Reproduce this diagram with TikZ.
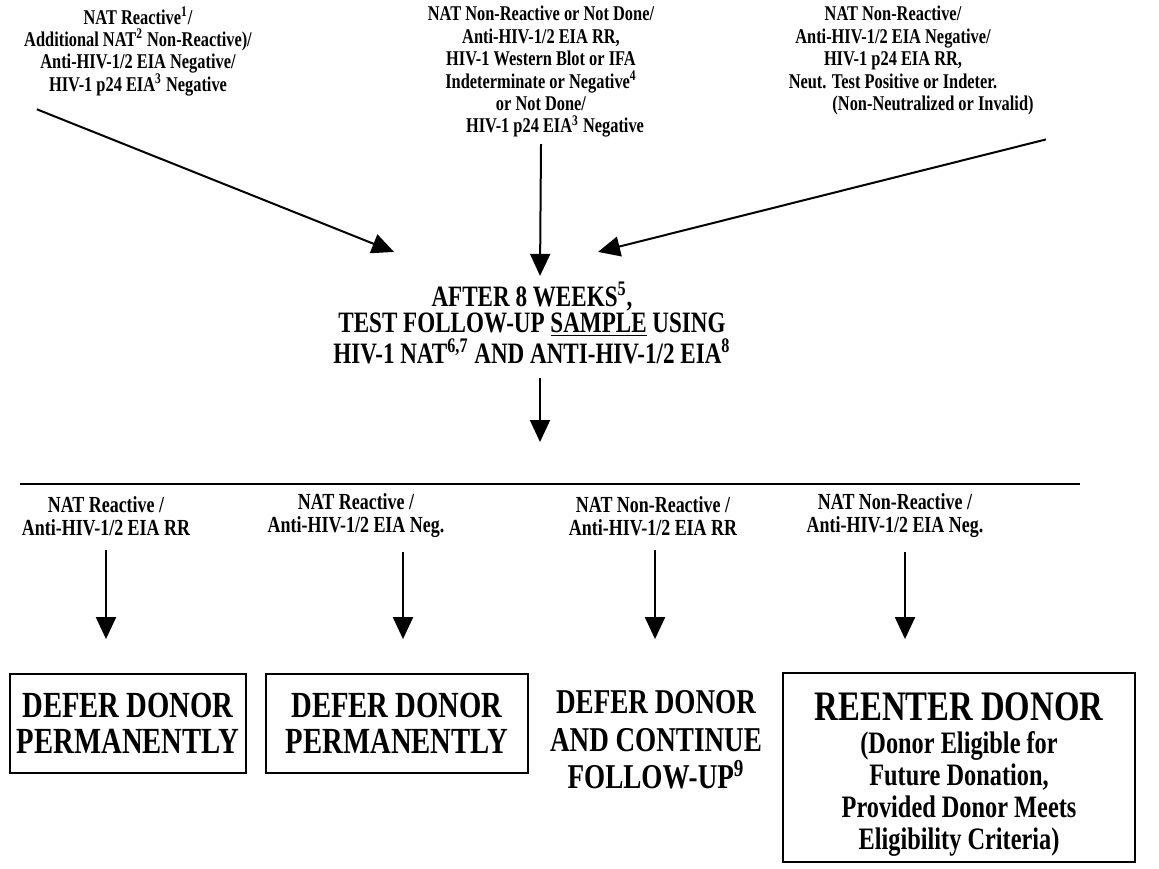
\documentclass[tikz,border=0pt]{standalone}
\usepackage{fontspec}
\setmainfont{Liberation Serif}[FakeStretch=0.78]
\usetikzlibrary{positioning, calc, arrows.meta}

\newcommand{\topfont}{\bfseries\fontsize{10.5pt}{11.2pt}\selectfont}
\newcommand{\midfont}{\bfseries\fontsize{14.8pt}{13.2pt}\selectfont}
\newcommand{\labfont}{\bfseries\fontsize{11.5pt}{11.5pt}\selectfont}
\newcommand{\outfont}{\bfseries\fontsize{18.4pt}{18pt}\selectfont}
\newcommand{\reenfont}{\bfseries\fontsize{21pt}{21pt}\selectfont}
\newcommand{\notefont}{\bfseries\fontsize{15.6pt}{16pt}\selectfont}

\begin{document}
\begin{tikzpicture}[x=0.5pt, y=-0.5pt]
\tikzset{Cond/.style={align=center, inner sep=0pt}}
\tikzset{Outcome/.style={shape=rectangle, draw, line width=0.9pt, inner sep=0pt}}
\tikzset{Arr/.style={line width=1pt, -{Triangle[length=11pt, width=10pt]}}}
\useasboundingbox (0,0) rectangle (1159,868);

% nodes
\node[Cond, font=\topfont, anchor=north] (ltop) at (138,6) {NAT Reactive\textsuperscript{1}/\\Additional NAT\textsuperscript{2} Non-Reactive)/\\Anti-HIV-1/2 EIA Negative/\\HIV-1 p24 EIA\textsuperscript{3} Negative};
\node[Cond, font=\topfont, anchor=north] (mtop) at (541,6) {NAT Non-Reactive or Not Done/\\Anti-HIV-1/2 EIA RR,\\HIV-1 Western Blot or IFA\\Indeterminate or Negative\textsuperscript{4}\\or Not Done/\\\hspace*{14pt}HIV-1 p24 EIA\textsuperscript{3} Negative};
\node[Cond, font=\topfont, anchor=north] (rtop) at (893,6) {NAT Non-Reactive/\\Anti-HIV-1/2 EIA Negative/\\HIV-1 p24 EIA RR,\\Neut. Test Positive or Indeter.\\\hspace*{40pt}(Non-Neutralized or Invalid)};

\node[Cond, font=\midfont] (follow) at (532,323) {AFTER 8 WEEKS\textsuperscript{5},\\TEST FOLLOW-UP \underline{SAMPLE} USING\\HIV-1 NAT\textsuperscript{6,7} AND ANTI-HIV-1/2 EIA\textsuperscript{8}};
\coordinate (hub) at (540,442);

\node[Cond, font=\labfont] (res1) at (106,516) {NAT Reactive /\\Anti-HIV-1/2 EIA RR};
\node[Cond, font=\labfont] (res2) at (356,516) {NAT Reactive /\\Anti-HIV-1/2 EIA Neg.};
\node[Cond, font=\labfont] (res3) at (653,516) {NAT Non-Reactive /\\Anti-HIV-1/2 EIA RR};
\node[Cond, font=\labfont] (res4) at (895,516) {NAT Non-Reactive /\\Anti-HIV-1/2 EIA Neg.};

\node[Outcome, minimum width=118pt, minimum height=49.5pt] (out1) at (128,723.5) {};
\node[Cond, font=\outfont, below=10pt of out1.north] (dfr1) {DEFER DONOR\\PERMANENTLY};
\node[Outcome, minimum width=131pt, minimum height=49.5pt] (out2) at (397,723.5) {};
\node[Cond, font=\outfont, below=10pt of out2.north] (dfr2) {DEFER DONOR\\PERMANENTLY};
\node[Cond, font=\bfseries\fontsize{17.4pt}{18.7pt}\selectfont] (dfr3) at (656,740) {DEFER DONOR\\AND CONTINUE\\FOLLOW-UP\textsuperscript{9}};
\node[Outcome, minimum width=176pt, minimum height=94.5pt] (out4) at (959,767.5) {};
\node[Cond, font=\reenfont, below=10pt of out4.north] (re4) {REENTER DONOR};
\node[Cond, font=\notefont, below=5pt of re4] (note4) {(Donor Eligible for\\Future Donation,\\Provided Donor Meets\\Eligibility Criteria)};

% arrows
\draw[Arr] ($(ltop.south west)+(13,13)$) -- ($(follow.north)+(-138,-30)$);
\draw[Arr] ($(mtop.south)+(0,6)$) -- ($(follow.north)+(8,-6)$);
\draw[Arr] ($(rtop.south east)+(12,24)$) -- ($(follow.north)+(66,-30)$);
\draw[Arr] ($(follow.south)+(8,14)$) -- (hub);
\draw[line width=1pt] (20,484) -- (1080,484);
\draw[Arr] ($(res1.south)+(0,14)$) -- ($(res1.south |- out1.north)+(0,-34)$);
\draw[Arr] ($(res2.south)+(47,14)$) -- ($(res2.south |- out1.north)+(47,-34)$);
\draw[Arr] ($(res3.south)+(2,14)$) -- ($(res3.south |- out1.north)+(2,-34)$);
\draw[Arr] ($(res4.south)+(10,14)$) -- ($(res4.south |- out1.north)+(10,-34)$);
\end{tikzpicture}
\end{document}
